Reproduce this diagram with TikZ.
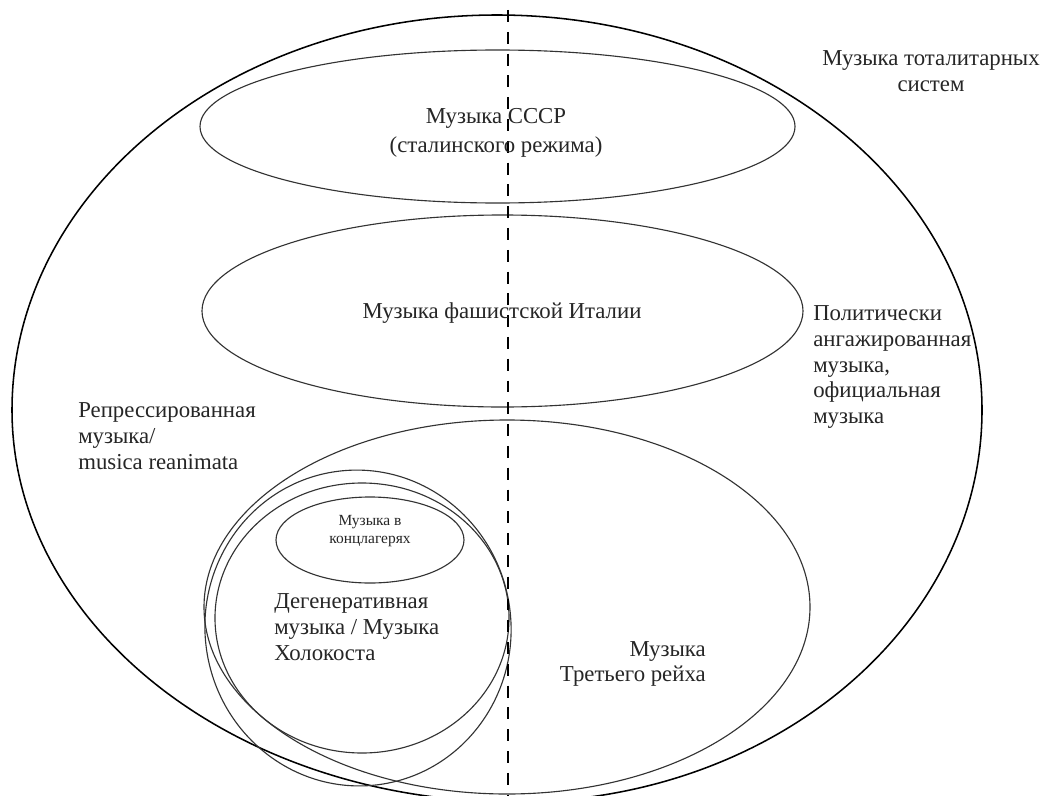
\documentclass[tikz,border=0pt]{standalone}
\usepackage{fontspec}
\setmainfont{Liberation Serif}
\usetikzlibrary{positioning}

\begin{document}
\begin{tikzpicture}[x=.025cm,y=-.025cm,
  ring/.style={draw=black!80,line width=.8pt},
  lbl/.style={font=\fontsize{16.2}{18.4}\selectfont,text=black!85,inner sep=0pt},
  smalllbl/.style={font=\fontsize{11}{13.4}\selectfont,text=black!85,inner sep=0pt}]
\fill[white] (0,0) rectangle (1044,795);\useasboundingbox (0,0) rectangle (1044,795);
\coordinate (T) at (497,15);\coordinate (L) at (12,410);\coordinate (B) at (515,802);\coordinate (R) at (982,410);
\draw[line width=1.1pt] (T) .. controls (229,15) and (12,192) .. (L) .. controls (12,626) and (237,802) .. (B) .. controls (773,802) and (982,626) .. (R) .. controls (982,192) and (765,15) .. cycle;
\draw[ring] (497.5,126.5) ellipse [x radius=297.5,y radius=76.5];
\draw[ring] (502.5,311) ellipse [x radius=300.5,y radius=96];
\draw[ring] (507,607) ellipse [x radius=303,y radius=187];
\draw[ring,rotate around={8:(358,628)}] (358,628) ellipse [x radius=153,y radius=158];
\draw[ring] (362,618) ellipse [x radius=147,y radius=135];
\draw[ring] (370,540) ellipse [x radius=94,y radius=43];
\coordinate (dtop) at (508,10);\coordinate (dbot) at (508,795);
\draw[line width=2pt,dash pattern=on 8.5pt off 7pt] (dtop)--(dbot);
\node[lbl,align=center] (tot) at (931,71) {Музыка тоталитарных\\систем};
\node[lbl,align=center] (ussr) at (496,133) {Музыка СССР\\[2pt](сталинского режима)};
\node[lbl] (ital) at (502,313) {Музыка фашистской Италии};
\node[lbl,align=left,anchor=west] (pol) at (813,367) {Политически\\ангажированная\\музыка,\\официальная\\музыка};
\node[lbl,align=left,anchor=west] (rep) at (78,436) {Репрессированная\\музыка/\\musica reanimata};
\node[smalllbl,align=center] (camp) at (370,531) {Музыка в\\концлагерях};
\node[lbl,align=left,anchor=west] (deg) at (274,627) {Дегенеративная\\музыка / Музыка\\Холокоста};
\node[lbl,align=right,anchor=east] (reich) at (706,664) {Музыка\\Третьего рейха};
\end{tikzpicture}
\end{document}
